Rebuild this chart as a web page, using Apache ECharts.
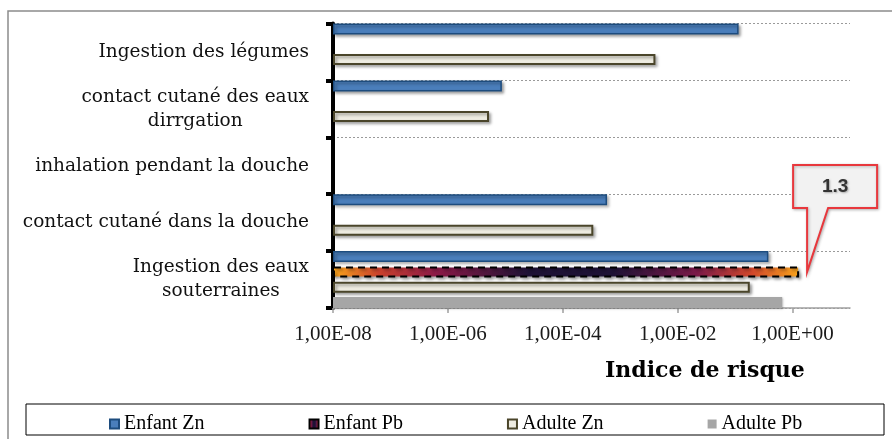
<!DOCTYPE html>
<html>
<head>
<meta charset="utf-8">
<script src="https://cdn.jsdelivr.net/npm/echarts@6/dist/echarts.min.js"></script>
<style>
html,body{margin:0;padding:0;background:#fff;}
#c{width:892px;height:439px;}
</style>
</head>
<body>
<div id="c"></div>
<script>
// ---- data ----
const categories = [
  'Ingestion des légumes',
  'contact cutané des eaux\ndirrgation',
  'inhalation pendant la douche',
  'contact cutané dans la douche',
  'Ingestion des eaux\nsouterraines'
];
const seriesNames = ['Enfant Zn', 'Enfant Pb', 'Adulte Zn', 'Adulte Pb'];
const enfantZn = [0.115, 8.7e-6, null, 5.9e-4, 0.38];
const enfantPb = [null, null, null, null, 1.3];
const adulteZn = [0.0041, 5.2e-6, null, 3.4e-4, 0.18];
const adultePb = [null, null, null, null, 0.66];
const tickLabels = ['1,00E-08', '1,00E-06', '1,00E-04', '1,00E-02', '1,00E+00'];
const axisTitle = 'Indice de risque';
const calloutText = '1.3';

// log axis starting at 1e-8: bars must start from the axis minimum,
// so values are expressed in decades above 1e-8
const LOG_MIN = -8;
const toDec = v => (v == null ? null : Math.log10(v) - LOG_MIN);

const chart = echarts.init(document.getElementById('c'), null, {renderer: 'canvas'});

const shadow = {shadowBlur: 3, shadowOffsetX: 2, shadowOffsetY: 2, shadowColor: 'rgba(0,0,0,0.35)'};

const pbGradient = new echarts.graphic.LinearGradient(0, 0, 1, 0, [
  {offset: 0, color: '#f9a51c'},
  {offset: 0.1, color: '#c9402d'},
  {offset: 0.22, color: '#8c1a47'},
  {offset: 0.42, color: '#1e1236'},
  {offset: 0.6, color: '#1e1236'},
  {offset: 0.78, color: '#7b1a49'},
  {offset: 0.9, color: '#d2482b'},
  {offset: 1, color: '#f9a51c'}
]);

const seriesData = [enfantZn, enfantPb, adulteZn, adultePb];
const styles = [
  Object.assign({color: '#4a7ebb', borderColor: '#1d4c7e', borderWidth: 1.5}, shadow),
  Object.assign({color: pbGradient, borderColor: '#000', borderWidth: 2, borderType: [7, 5]}, shadow),
  Object.assign({color: '#eeece1', borderColor: '#4a452a', borderWidth: 2}, shadow),
  Object.assign({color: '#a6a6a6', borderWidth: 0}, {shadowBlur: 2, shadowOffsetX: 1, shadowOffsetY: 1, shadowColor: 'rgba(0,0,0,0.25)'})
];

const option = {
  animation: false,
  backgroundColor: '#fff',
  grid: {left: 333, right: 42, top: 23.5, bottom: 131, containLabel: false},
  title: {
    text: axisTitle,
    left: 600, top: 355,
    textStyle: {fontFamily: 'DejaVu Serif', fontWeight: 'bold', fontSize: 22, color: '#000'}
  },
  legend: {
    data: seriesNames,
    left: 104, top: 409,
    itemWidth: 9, itemHeight: 9, itemGap: 104,
    icon: 'rect',
    textStyle: {fontFamily: 'Liberation Serif', fontSize: 20, color: '#000'}
  },
  xAxis: {
    type: 'value',
    min: 0, max: 9, interval: 2,
    axisLine: {show: true, lineStyle: {color: '#a0a0a0', width: 1.5}},
    axisTick: {show: true, length: 5, lineStyle: {color: '#a0a0a0', width: 1.5}, customValues: [0, 2, 4, 6, 8]},
    splitLine: {show: false},
    axisLabel: {
      margin: 16,
      fontFamily: 'Liberation Serif', fontSize: 21, color: '#1a1a1a',
      customValues: [0, 2, 4, 6, 8],
      formatter: v => (v % 2 === 0 && tickLabels[v / 2]) ? tickLabels[v / 2] : ''
    }
  },
  yAxis: {
    type: 'category',
    data: categories,
    inverse: true,
    axisLine: {show: true, lineStyle: {color: '#000', width: 4}},
    axisTick: {show: true, length: 7, lineStyle: {color: '#000', width: 4}},
    splitLine: {show: true, lineStyle: {color: '#9a9a9a', width: 1, type: [2, 2]}},
    axisLabel: {
      margin: 24,
      formatter: v => v.split('\n').map(l => '{c|' + l + '}').join('\n'),
      rich: {c: {fontFamily: 'DejaVu Serif', fontSize: 18.5, lineHeight: 24, color: '#111', align: 'center'}}
    }
  },
  series: seriesNames.map((name, i) => ({
    name,
    type: 'bar',
    barWidth: 11,
    barGap: '39%',
    data: seriesData[i].map(toDec),
    itemStyle: styles[i],
    emphasis: {disabled: true}
  }))
};

chart.setOption(option);

// callout for the Enfant Pb value, anchored to the rendered bar end
function addCallout() {
  const catIdx = 4;
  let tipX, tipY;
  try {
    const lay = chart.getModel().getSeriesByIndex(1).getData().getItemLayout(catIdx);
    tipX = lay.x + lay.width + 8;
    tipY = lay.y + lay.height / 2;
  } catch (e) {
    const p = chart.convertToPixel({gridIndex: 0}, [toDec(enfantPb[catIdx]), catIdx]);
    tipX = p[0] + 8; tipY = p[1] - 8;
  }
  const L = tipX - 14, R = tipX + 70, T = tipY - 107, B = tipY - 64;
  chart.setOption({
    graphic: [
      {
        type: 'rect', silent: true, z: -10,
        shape: {x: 8, y: 11, width: 900, height: 440},
        style: {fill: 'none', stroke: '#8c8c8c', lineWidth: 1.5}
      },
      {
        type: 'rect', silent: true, z: 0,
        shape: {x: 26, y: 404, width: 858, height: 31},
        style: {fill: 'none', stroke: '#000', lineWidth: 1}
      },
      {
        type: 'polygon', silent: true, z: 100,
        shape: {points: [[L, T], [R, T], [R, B], [tipX + 21, B], [tipX, tipY], [tipX, B], [L, B]]},
        style: {fill: '#f2f2f2', stroke: '#e8383d', lineWidth: 2,
          shadowBlur: 3, shadowOffsetX: 1, shadowOffsetY: 1, shadowColor: 'rgba(0,0,0,0.25)'}
      },
      {
        type: 'text', silent: true, z: 101,
        x: (L + R) / 2, y: (T + B) / 2,
        style: {text: calloutText, fill: '#333', font: 'bold 19px "Liberation Sans"',
          align: 'center', verticalAlign: 'middle',
          textShadowBlur: 2, textShadowColor: 'rgba(0,0,0,0.3)', textShadowOffsetX: 1, textShadowOffsetY: 1}
      }
    ]
  });
}
addCallout();
</script>
</body>
</html>
